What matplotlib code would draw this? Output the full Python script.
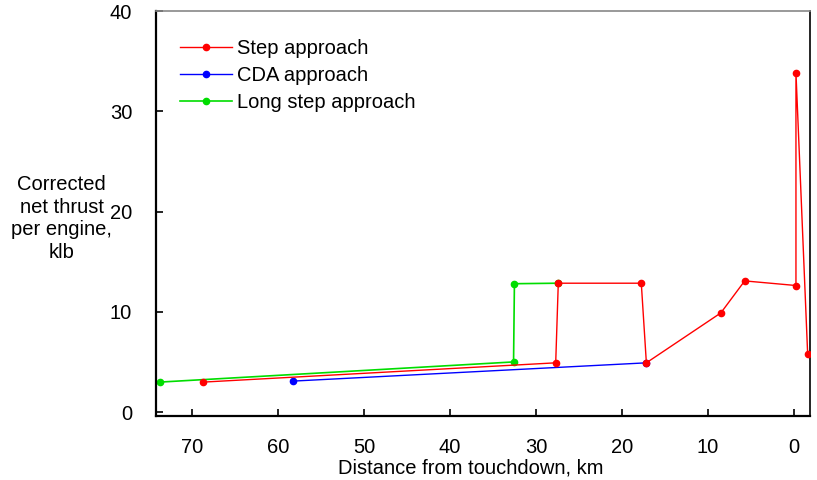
import matplotlib
matplotlib.use("Agg")
from matplotlib import pyplot as plt

plt.rcParams['font.family'] = ['Liberation Sans', 'DejaVu Sans']

# Step approach
step_x = [68.65, 27.7, 27.4, 17.75, 17.16, 8.5, 5.73, -0.23, -0.23, -1.59]
step_y = [3.0, 4.92, 12.86, 12.86, 4.92, 9.9, 13.09, 12.63, 33.87, 5.81]

# CDA approach
cda_x = [58.2, 17.16]
cda_y = [3.1, 4.92]

# Long step approach
long_x = [73.7, 32.6, 32.5, 27.4]
long_y = [3.0, 5.01, 12.81, 12.86]

x_ticks = [70, 60, 50, 40, 30, 20, 10, 0]
y_ticks = [0, 10, 20, 30, 40]

fs = 14.5

fig = plt.figure(figsize=(8.17, 4.8), dpi=100)
ax = fig.add_axes([0.1906, 0.134, 0.8008, 0.843])

ax.plot(step_x, step_y, color='#ff0000', lw=1.0, marker='o', ms=4.5,
        label='Step approach', zorder=4)
ax.plot(cda_x, cda_y, color='#0000ff', lw=1.0, marker='o', ms=4.5,
        label='CDA approach', zorder=3)
ax.plot(long_x, long_y, color='#00dd00', lw=1.2, marker='o', ms=4.5,
        label='Long step approach', zorder=2)

ax.set_xlim(74.2, -1.86)
ax.set_ylim(-0.35, 40)
ax.set_xticks(x_ticks)
ax.set_yticks(y_ticks)
ax.tick_params(direction='in', length=5, width=1.2, labelsize=fs)
ax.tick_params(axis='x', pad=16)
ax.tick_params(axis='y', pad=17)

for s in ['left', 'bottom']:
    ax.spines[s].set_linewidth(1.6)
ax.spines['top'].set_color('#888888')
ax.spines['top'].set_linewidth(1.2)
ax.spines['right'].set_linewidth(1.2)

ax.set_xlabel('Distance from touchdown, km', fontsize=fs, labelpad=2)
ax.xaxis.set_label_coords(0.482, -0.105)
fig.text(0.0755, 0.545, 'Corrected\nnet thrust\nper engine,\nklb', ha='center',
         va='center', fontsize=fs, linespacing=1.25)

ax.legend(loc='upper left', frameon=False, fontsize=fs, handlelength=2.6,
          handletextpad=0.22, labelspacing=0.38, borderaxespad=0.0,
          bbox_to_anchor=(0.025, 0.95))

fig.savefig('out.png', dpi=100)
